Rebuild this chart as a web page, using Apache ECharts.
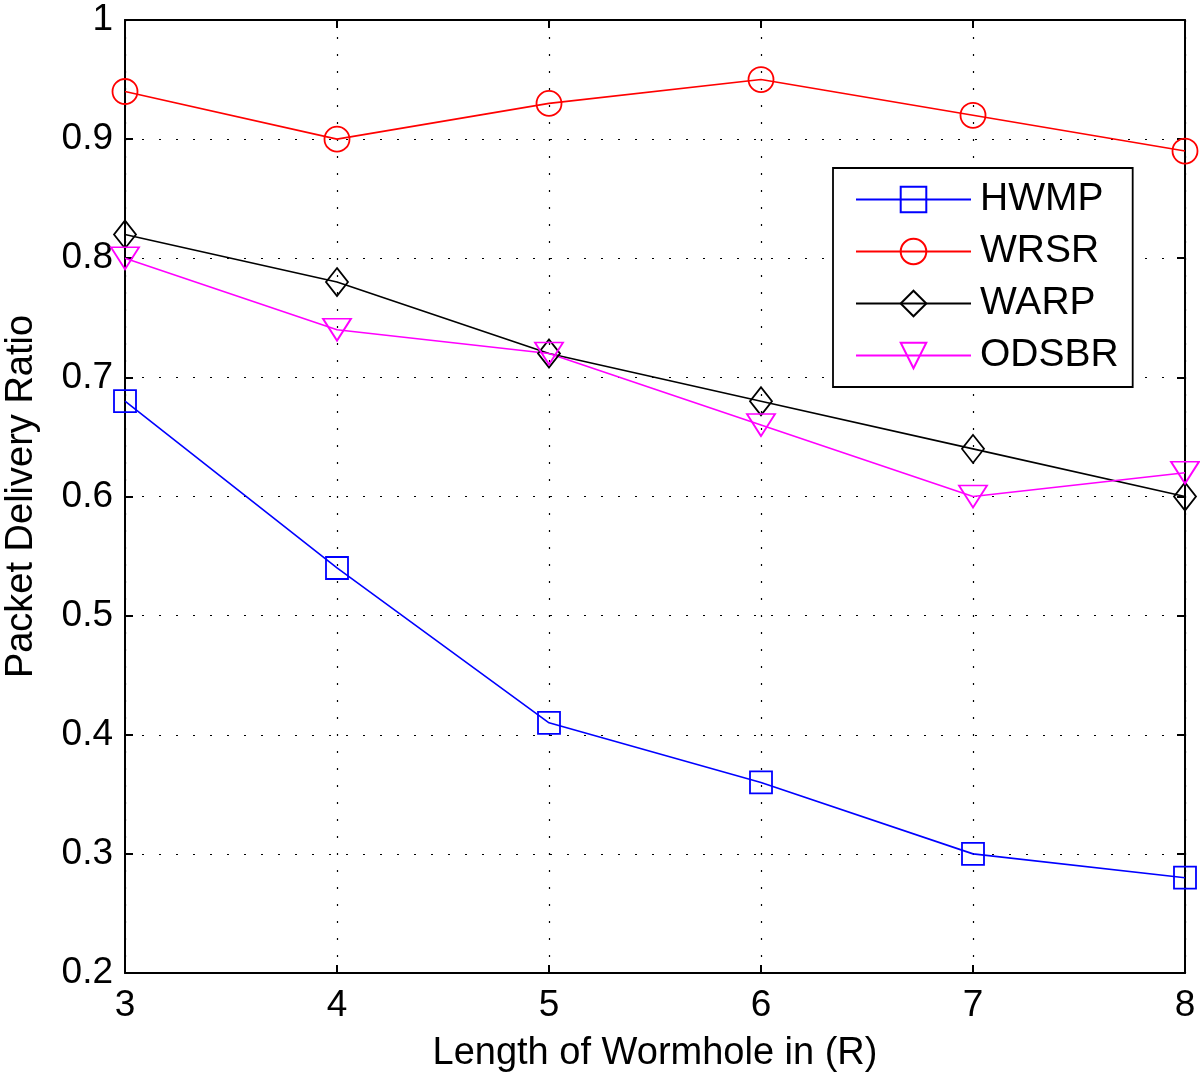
<!DOCTYPE html>
<html><head><meta charset="utf-8">
<script src="https://cdn.jsdelivr.net/npm/echarts@6/dist/echarts.min.js"></script>
<style>html,body{margin:0;padding:0;background:#fff}#c{width:1200px;height:1072px}</style>
</head><body><div id="c"></div>
<script>
const categories = [3, 4, 5, 6, 7, 8];
const hwmp  = [0.68, 0.54, 0.41, 0.36, 0.30, 0.28];
const wrsr  = [0.94, 0.90, 0.93, 0.95, 0.92, 0.89];
const warp  = [0.82, 0.78, 0.72, 0.68, 0.64, 0.60];
const odsbr = [0.80, 0.74, 0.72, 0.66, 0.60, 0.62];
const yTicks = [0.2, 0.3, 0.4, 0.5, 0.6, 0.7, 0.8, 0.9, 1];

const font = 'Liberation Sans, Arial, Helvetica, sans-serif';
const chart = echarts.init(document.getElementById('c'));
function mk(name, data, color, symbol, size, rot) {
  return {
    name, type: 'line', data: categories.map((x, i) => [x, data[i]]),
    symbol, symbolSize: size, symbolRotate: rot || 0,
    lineStyle: { color, width: 1.6 },
    itemStyle: { color: 'rgba(255,255,255,0)', borderColor: color, borderWidth: 1.8 },
    emphasis: { disabled: true }, z: 3, clip: false
  };
}
const gridLine = { show: true, lineStyle: { color: '#000', type: [2, 15], width: 1.2 } };
chart.setOption({
  animation: false,
  backgroundColor: '#fff',
  grid: { left: 125, right: 15, top: 20, bottom: 99, containLabel: false, outerBoundsMode: 'none' },
  legend: {
    left: 833, top: 168, orient: 'vertical',
    backgroundColor: '#fff', borderColor: '#000', borderWidth: 1.8,
    padding: [12, 14, 12, 22], itemGap: 13, itemWidth: 115, itemHeight: 32,
    textStyle: { fontFamily: font, fontSize: 39, color: '#000', padding: [0, 0, 0, 4] },
    data: ['HWMP', 'WRSR', 'WARP', 'ODSBR']
  },
  xAxis: [{
    type: 'value', min: 3, max: 8, interval: 1,
    name: 'Length of Wormhole in (R)', nameLocation: 'middle', nameGap: 62,
    nameTextStyle: { fontFamily: font, fontSize: 38, color: '#000' },
    axisLine: { show: true, onZero: false, lineStyle: { color: '#000', width: 2 } },
    axisTick: { show: true, inside: true, length: 8, lineStyle: { color: '#000', width: 2 } },
    axisLabel: { fontFamily: font, fontSize: 37, color: '#000', margin: 14 },
    splitLine: gridLine
  }, {
    type: 'value', min: 3, max: 8, interval: 1, position: 'top',
    axisLine: { show: true, onZero: false, lineStyle: { color: '#000', width: 2 } },
    axisTick: { show: true, inside: true, length: 8, lineStyle: { color: '#000', width: 2 } },
    axisLabel: { show: false }, splitLine: { show: false }
  }],
  yAxis: [{
    type: 'value', min: 0.2, max: 1, interval: 0.1,
    name: 'Packet Delivery Ratio', nameLocation: 'middle', nameGap: 84,
    nameTextStyle: { fontFamily: font, fontSize: 38, color: '#000' },
    axisLine: { show: true, onZero: false, lineStyle: { color: '#000', width: 2 } },
    axisTick: { show: true, inside: true, length: 8, lineStyle: { color: '#000', width: 2 } },
    axisLabel: { fontFamily: font, fontSize: 37, color: '#000', margin: 12,
      formatter: v => { const t = yTicks.find(k => Math.abs(k - v) < 1e-6); return t === undefined ? '' : String(t); } },
    splitLine: gridLine
  }, {
    type: 'value', min: 0.2, max: 1, interval: 0.1, position: 'right',
    axisLine: { show: true, onZero: false, lineStyle: { color: '#000', width: 2 } },
    axisTick: { show: true, inside: true, length: 8, lineStyle: { color: '#000', width: 2 } },
    axisLabel: { show: false }, splitLine: { show: false }
  }],
  series: [
    mk('HWMP', hwmp, '#0000ff', 'rect', 22),
    mk('WRSR', wrsr, '#ff0000', 'circle', 25),
    mk('WARP', warp, '#000000', 'diamond', [22, 28]),
    mk('ODSBR', odsbr, '#ff00ff', 'triangle', [28, 22], 180)
  ]
});
</script></body></html>
